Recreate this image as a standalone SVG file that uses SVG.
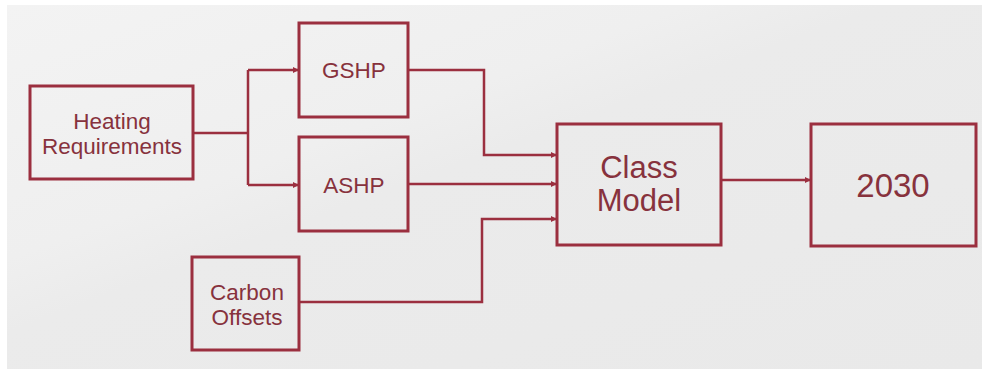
<svg xmlns="http://www.w3.org/2000/svg" width="982" height="369" viewBox="0 0 982 369">
<defs>
<linearGradient id="bg" x1="0" y1="0" x2="1" y2="1">
<stop offset="0" stop-color="#f3f3f3"/>
<stop offset="0.35" stop-color="#efefef"/>
<stop offset="0.45" stop-color="#ebebeb"/>
<stop offset="1" stop-color="#e9e9e9"/>
</linearGradient>
<marker id="arr" viewBox="0 0 6 6" refX="6" refY="3" markerWidth="6" markerHeight="6" markerUnits="userSpaceOnUse" orient="auto">
<path d="M0,0 L6,3 L0,6 z" fill="#9b2f3f"/>
</marker>
<style>
.box{fill:none;stroke:#9b2f3f;stroke-width:3}
.con{fill:none;stroke:#9b2f3f;stroke-width:2.5}
.t{font-family:"Liberation Sans",Arial,sans-serif;fill:#87323d;text-anchor:middle}
.s{font-size:22.5px}
.l{font-size:31px}
.xl{font-size:33px}
</style>
</defs>
<rect x="0" y="0" width="982" height="369" fill="#ffffff"/>
<rect x="7" y="5" width="975" height="364" fill="url(#bg)"/>
<g id="connectors">
<path class="con" d="M193,133 H248 M248,70 V185"/>
<path class="con" d="M248,70 H299" marker-end="url(#arr)"/>
<path class="con" d="M248,185 H299" marker-end="url(#arr)"/>
<path class="con" d="M408,70 H484 V155 H557" marker-end="url(#arr)"/>
<path class="con" d="M408,184 H557" marker-end="url(#arr)"/>
<path class="con" d="M299,302 H482 V219 H557" marker-end="url(#arr)"/>
<path class="con" d="M721,180 H811" marker-end="url(#arr)"/>
</g>
<g id="heating">
<rect class="box" x="30" y="86" width="163" height="93"/>
<text class="t s" x="112" y="129">Heating</text>
<text class="t s" x="112" y="154">Requirements</text>
</g>
<g id="gshp">
<rect class="box" x="299" y="23" width="109" height="94"/>
<text class="t s" x="354" y="78">GSHP</text>
</g>
<g id="ashp">
<rect class="box" x="299" y="137" width="109" height="94"/>
<text class="t s" x="354" y="193">ASHP</text>
</g>
<g id="carbon">
<rect class="box" x="192" y="257" width="107" height="93"/>
<text class="t s" x="247" y="300">Carbon</text>
<text class="t s" x="247" y="325">Offsets</text>
</g>
<g id="classmodel">
<rect class="box" x="557" y="124" width="164" height="121"/>
<text class="t l" x="639" y="178">Class</text>
<text class="t l" x="639" y="211">Model</text>
</g>
<g id="y2030">
<rect class="box" x="811" y="124" width="165" height="122"/>
<text class="t xl" x="893" y="197">2030</text>
</g>
</svg>
